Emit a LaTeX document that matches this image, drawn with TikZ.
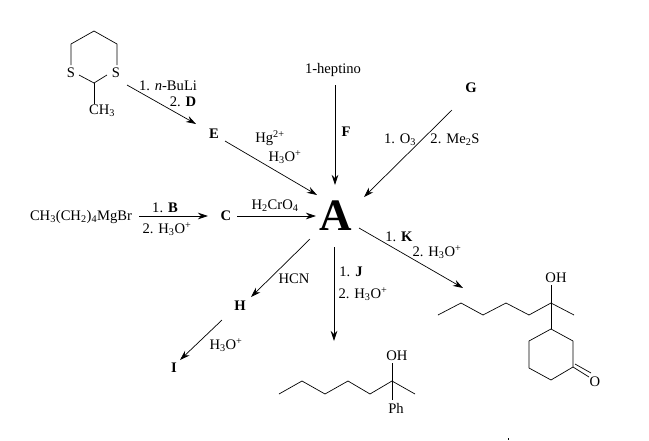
\documentclass[tikz,border=0pt]{standalone}
\usepackage{fontspec}
\setmainfont{Liberation Serif}
\usetikzlibrary{arrows.meta}

\newcommand{\hydronium}{H\textsubscript{3}O\textsuperscript{+}}

\tikzset{
  rxn/.style={-{Stealth[length=10pt,width=6.5pt]},line width=0.7pt},
  bond/.style={line width=0.7pt,line join=round},
  txt/.style={inner sep=0pt,yshift=-1pt,font=\fontsize{14.6}{16}\selectfont},
  cmpd/.style={inner sep=0pt,yshift=-1pt,font=\fontsize{14.6}{16}\selectfont\bfseries}
}

\begin{document}
\begin{tikzpicture}[x=1pt,y=-1pt]
\useasboundingbox (0,0) rectangle (649,440);

\path (336,216) node[inner sep=0pt,font=\fontsize{45}{45}\selectfont\bfseries](A){A};
\path (214,133) node[cmpd](E){E};
\path (226,215) node[cmpd](C){C};
\path (471,87) node[cmpd](G){G};
\path (240,305) node[cmpd](H){H};
\path (174,367) node[cmpd](I){I};
\path (333,69) node[txt](hept){1-heptino};
\path (81,216) node[txt](grig){CH\textsubscript{3}(CH\textsubscript{2})\textsubscript{4}MgBr};

\coordinate (dith) at (127,85);
\coordinate (prodj) at (334,341);
\coordinate (prodk) at (463,288);

% arrows into A
\draw[rxn] (dith) -- ([shift={(-18,-10)}]E.center);
\draw[rxn] ([shift={(11,7)}]E.center) -- ([shift={(-19,-21)}]A.center);
\draw[rxn] ([shift={(2,15)}]hept.center) -- ([shift={(-1,-31)}]A.center);
\draw[rxn] ([shift={(-19,22)}]G.center) -- ([shift={(28,-19)}]A.center);
\draw[rxn] ([shift={(58,-1)}]grig.center) -- ([shift={(-18,0)}]C.center);
\draw[rxn] ([shift={(11,0)}]C.center) -- ([shift={(-20,0)}]A.center);

% arrows out of A
\draw[rxn] ([shift={(-26,23)}]A.center) -- ([shift={(11,-9)}]H.center);
\draw[rxn] ([shift={(-18,14)}]H.center) -- ([shift={(6,-8)}]I.center);
\draw[rxn] ([shift={(-2,31)}]A.center) -- (prodj);
\draw[rxn] ([shift={(23,12)}]A.center) -- (prodk);

% reagents
\path (168,85) node[txt](buli){1. \textit{n}-BuLi};
\path (183,101) node[txt](dreag){2. \textbf{D}};
\path (270,137) node[txt](hg){Hg\textsuperscript{2+}};
\path (285,156) node[txt](eacid){\hydronium};
\path (346,131) node[cmpd](F){F};
\path (400,139) node[txt](ozone){1. O\textsubscript{3}};
\path (455,139) node[txt](dms){2. Me\textsubscript{2}S};
\path (165,207) node[txt](breag){1. \textbf{B}};
\path (167,228) node[txt](bacid){2. \hydronium};
\path (275,205) node[txt](chrom){H\textsubscript{2}CrO\textsubscript{4}};
\path (399,236) node[txt](kreag){1. \textbf{K}};
\path (437,251) node[txt](kacid){2. \hydronium};
\path (294,278) node[txt](hcn){HCN};
\path (351,271) node[txt](jreag){1. \textbf{J}};
\path (363,293) node[txt](jacid){2. \hydronium};
\path (226,344) node[txt](iacid){\hydronium};

% dithiane
\path (71,72) node[txt](sleft){S};
\path (116,72) node[txt](sright){S};
\path (102,110) node[txt](meth){CH\textsubscript{3}};
\draw[bond] (71,65) -- (71,44) -- (94,31) -- (117,44) -- (117,65);
\draw[bond] (79,75) -- (94,83) -- (107,75);
\draw[bond] (94,83) -- (94,104);

% tertiary alcohol
\path (397,355) node[txt](oha){OH};
\path (396,407) node[txt](ph){Ph};
\draw[bond] (279,394) -- (302,381) -- (325,394) -- (348,381) -- (370,394) -- (392,381) -- (415,394);
\draw[bond] (392,363) -- (392,400);

% cyclohexanone
\path (556,277) node[txt](ohb){OH};
\path (595,381) node[txt](ket){O};
\draw[bond] (438,315) -- (461,303) -- (483,315) -- (506,303) -- (529,315) -- (551,303) -- (574,315);
\draw[bond] (551,285) -- (551,329);
\draw[bond] (551,329) -- (573,341) -- (573,367) -- (551,380) -- (529,368) -- (529,341) -- cycle;
\draw[bond] (573,367) -- (589,377);
\draw[bond] (575,364) -- (591,373);

\draw[line width=0.6pt] (508,438) -- (508,440);

\end{tikzpicture}
\end{document}
